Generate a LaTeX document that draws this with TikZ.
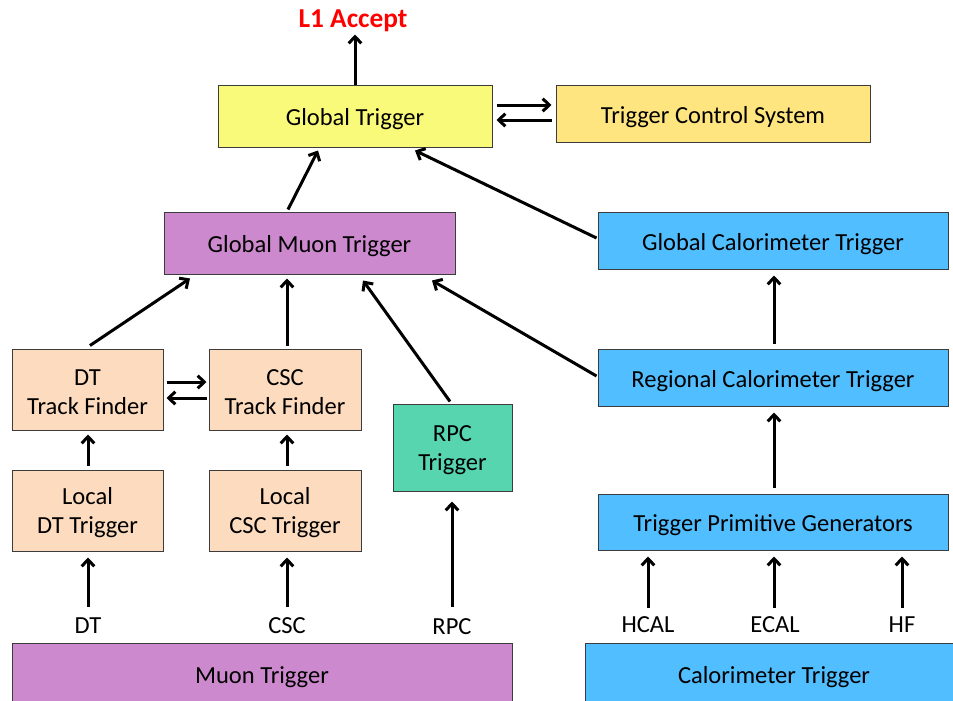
\documentclass[tikz,border=0pt]{standalone}
\usepackage{fontspec}
\setmainfont{Carlito}
\usetikzlibrary{arrows.meta,calc}
\definecolor{gtc}{RGB}{250,250,122}
\definecolor{tcsc}{RGB}{255,229,128}
\definecolor{muc}{RGB}{205,137,206}
\definecolor{calc}{RGB}{80,190,255}
\definecolor{peach}{RGB}{252,219,190}
\definecolor{rpcc}{RGB}{86,213,174}
\definecolor{boxline}{RGB}{60,60,60}
\newcommand{\topstrut}{\rule{0pt}{16.6pt}}
\begin{document}
\begin{tikzpicture}[x=0.75pt,y=-0.75pt,
  boxbase/.style={draw=boxline,line width=0.75pt,inner sep=0pt,align=center,
    font=\fontsize{18.4}{21.75}\selectfont},
  box/.style={boxbase,text height=17.9pt,text depth=3.5pt},
  wh/.style 2 args={minimum width=#1*0.75pt,minimum height=#2*0.75pt},
  lbl/.style={inner sep=0pt,font=\fontsize{18.4}{22}\selectfont},
  arr/.style={line width=2.25pt,-{Straight Barb[length=5pt,width=9.5pt]}}]
\useasboundingbox (0,0) rectangle (953,700);
\clip (0,0) rectangle (953,700);
% boxes
\node[box,fill=gtc,wh={274}{62}] (gt) at (355,116) {Global Trigger};
\node[box,fill=tcsc,wh={314}{57}] (tcs) at (713,113.5) {Trigger Control System};
\node[box,fill=muc,wh={291}{62}] (gmt) at (309.5,243) {Global Muon Trigger};
\node[box,fill=calc,wh={350}{57}] (gct) at (773,240.5) {Global Calorimeter Trigger};
\node[boxbase,fill=peach,wh={151}{81}] (dttf) at (87.5,389.5) {\topstrut DT\\Track Finder};
\node[boxbase,fill=peach,wh={152}{81}] (csctf) at (285,389.5) {\topstrut CSC\\Track Finder};
\node[boxbase,fill=peach,wh={151}{81}] (ldt) at (87.5,510.5) {\topstrut Local\\DT Trigger};
\node[boxbase,fill=peach,wh={152}{81}] (lcsc) at (285,510.5) {\topstrut Local\\CSC Trigger};
\node[boxbase,fill=rpcc,wh={119}{87}] (rpct) at (452.5,447.5) {\topstrut RPC\\Trigger};
\node[box,fill=calc,wh={350}{57}] (rct) at (773,377.5) {Regional Calorimeter Trigger};
\node[box,fill=calc,wh={350}{56}] (tpg) at (773,522) {Trigger Primitive Generators};
\node[box,fill=muc,wh={500}{62}] (mu) at (262,674) {Muon Trigger};
\node[box,fill=calc,wh={378}{62}] (cal) at (774,674) {Calorimeter Trigger};
% labels
\node[inner sep=0pt,text=red,font=\fontsize{20.5}{24}\selectfont\bfseries] (l1) at (353,20.5) {L1 Accept};
\node[lbl] (dt) at (88,626) {DT};
\node[lbl] (csc) at (287,626) {CSC};
\node[lbl] (rpc) at (452,627) {RPC};
\node[lbl] (hcal) at (648,625) {HCAL};
\node[lbl] (ecal) at (775,625) {ECAL};
\node[lbl] (hf) at (902,625) {HF};
% connectors
\draw[arr] (gt.north) -- ($(gt.north)+(0,-50)$);
\draw[arr] ($(gt.east)+(4,-11)$) -- ($(tcs.west)+(-4,-8.5)$);
\draw[arr] ($(tcs.west)+(-4,6.5)$) -- ($(gt.east)+(4,4)$);
\draw[arr] ($(gmt.north)+(-21.5,-2)$) -- ($(gt.south)+(-37,3)$);
\draw[arr] ($(gct.west)+(-1,-2.5)$) -- ($(gt.south)+(60,3)$);
\draw[arr] ($(dttf.north)+(2.5,-3)$) -- ($(gmt.south)+(-119.5,4)$);
\draw[arr] ($(csctf.north)+(2,-3)$) -- ($(gmt.south)+(-22.5,4)$);
\draw[arr] ($(rpct.north)+(-2.5,-2)$) -- ($(gmt.south)+(53.5,6)$);
\draw[arr] ($(rct.west)+(-1,-1.5)$) -- ($(gmt.south)+(122.5,6)$);
\draw[arr] ($(dttf.east)+(3,-7.5)$) -- ($(csctf.west)+(-2,-7.5)$);
\draw[arr] ($(csctf.west)+(-2,8.5)$) -- ($(dttf.east)+(3,8.5)$);
\draw[arr] ($(ldt.north)+(0.5,-4)$) -- ($(dttf.south)+(0.5,4)$);
\draw[arr] ($(lcsc.north)+(2,-4)$) -- ($(csctf.south)+(2,4)$);
\draw[arr] ($(dt.north)+(0,-11)$) -- ($(dt.north |- ldt.south)+(0,6)$);
\draw[arr] ($(csc.north)+(0,-11)$) -- ($(csc.north |- lcsc.south)+(0,6)$);
\draw[arr] ($(rpc.north)+(0,-12)$) -- ($(rpc.north |- rpct.south)+(0,10)$);
\draw[arr] ($(hcal.north)+(0,-9)$) -- ($(hcal.north |- tpg.south)+(0,6)$);
\draw[arr] ($(ecal.north)+(-1,-9)$) -- ($(ecal.north |- tpg.south)+(-1,6)$);
\draw[arr] ($(hf.north)+(0,-9)$) -- ($(hf.north |- tpg.south)+(0,6)$);
\draw[arr] ($(tpg.north)+(1,-6)$) -- ($(rct.south)+(1,6)$);
\draw[arr] ($(rct.north)+(1,-5)$) -- ($(gct.south)+(1,6)$);
\end{tikzpicture}
\end{document}
